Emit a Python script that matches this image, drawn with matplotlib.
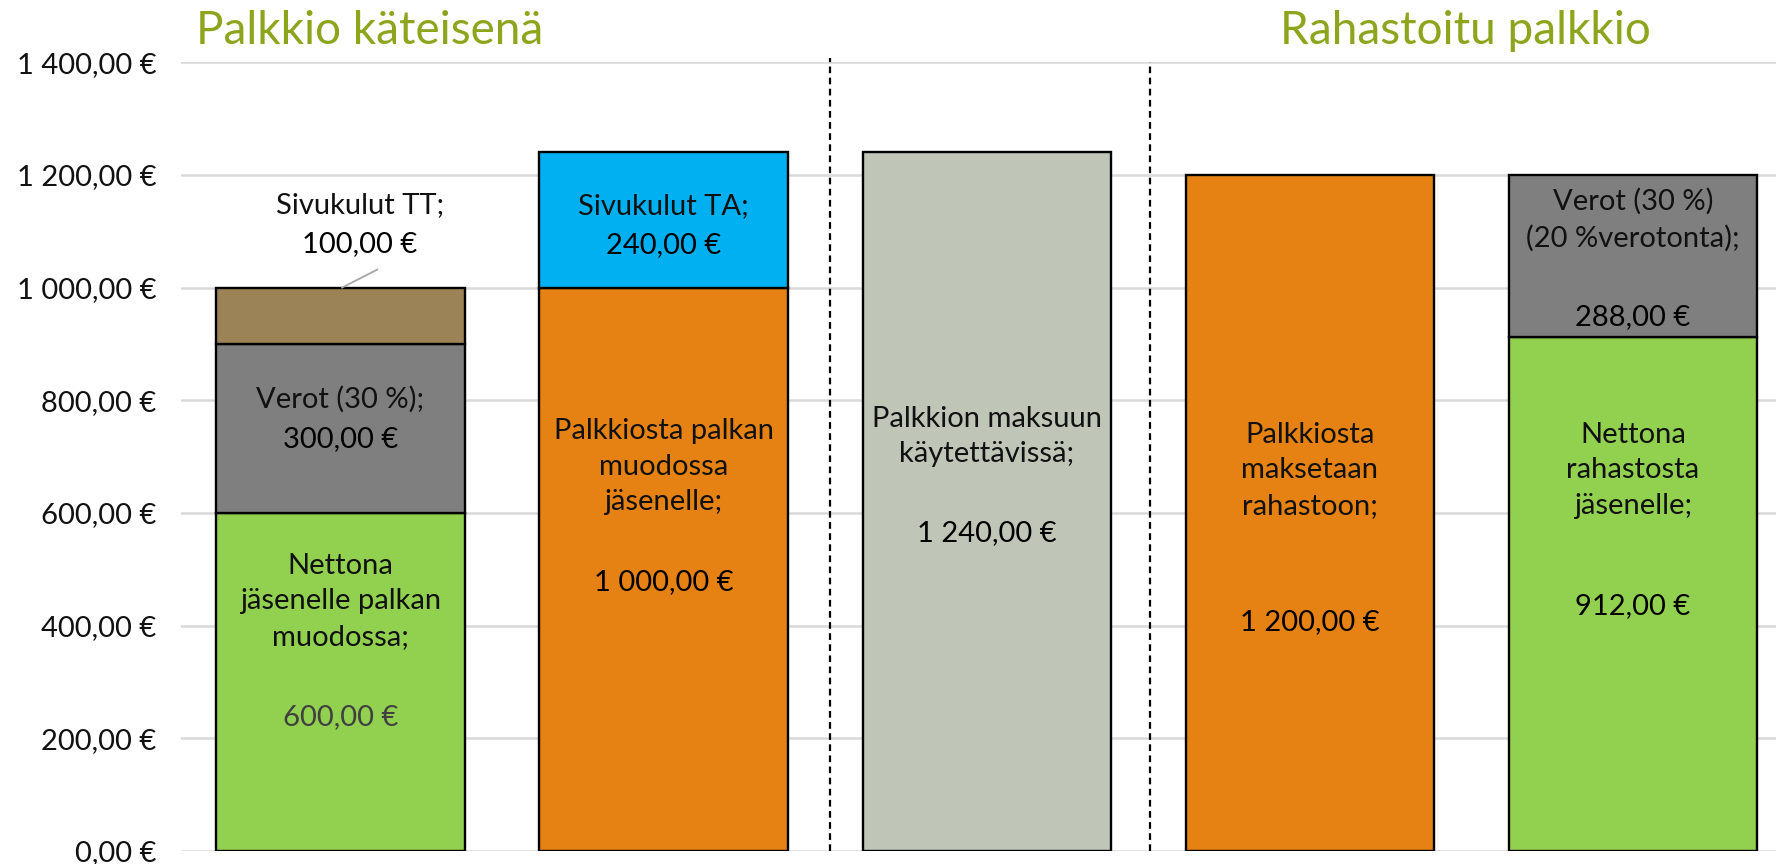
import numpy as np
import matplotlib.pyplot as plt

plt.rcParams['font.family'] = ['Lato', 'DejaVu Sans']

# Pylväät (vasemmalta oikealle) ja niiden osat alhaalta ylös
pylvaat = [0, 1, 2, 3, 4]
alaosa = [600, 1000, 1240, 1200, 912]
keskiosa = [300, 240, 0, 0, 288]
ylaosa = [100, 0, 0, 0, 0]

alaosa_varit = ['#92D050', '#E58213', '#BFC5B7', '#E58213', '#92D050']
keskiosa_varit = ['#7F7F7F', '#00B0F0', 'none', 'none', '#7F7F7F']
ylaosa_varit = ['#9C8257', 'none', 'none', 'none', 'none']

y_tikit = [0, 200, 400, 600, 800, 1000, 1200, 1400]
y_tikkien_nimet = ['0,00 €', '200,00 €', '400,00 €', '600,00 €', '800,00 €',
                   '1 000,00 €', '1 200,00 €', '1 400,00 €']

# Tekstit: (x, y nimi, nimi, y arvo, arvo, arvon väri)
tekstit = [
    (0, 443, 'Nettona\njäsenelle palkan\nmuodossa;', 237, '600,00 €', '#404040'),
    (0, 801, 'Verot (30 %);', 732, '300,00 €', 'black'),
    (0.06, 1147, 'Sivukulut TT;', 1078, '100,00 €', 'black'),
    (1, 1145, 'Sivukulut TA;', 1076, '240,00 €', 'black'),
    (1, 682, 'Palkkiosta palkan\nmuodossa\njäsenelle;', 477, '1 000,00 €', 'black'),
    (2, 736, 'Palkkion maksuun\nkäytettävissä;', 565, '1 240,00 €', 'black'),
    (3, 676, 'Palkkiosta\nmaksetaan\nrahastoon;', 406, '1 200,00 €', 'black'),
    (4, 676, 'Nettona\nrahastosta\njäsenelle;', 435, '912,00 €', 'black'),
    (4, 1120, 'Verot (30 %)\n(20 %verotonta);', 948, '288,00 €', 'black'),
]

fig = plt.figure(figsize=(17.76, 8.64), dpi=100)
ax = fig.add_axes([0.102, 0.015, 0.898, 0.913])

leveys = 0.768
ax.bar(pylvaat, alaosa, width=leveys, color=alaosa_varit, edgecolor='black', linewidth=1.7, zorder=3)
for i in pylvaat:
    if keskiosa[i] > 0:
        ax.bar(i, keskiosa[i], bottom=alaosa[i], width=leveys, color=keskiosa_varit[i],
               edgecolor='black', linewidth=1.7, zorder=3)
    if ylaosa[i] > 0:
        ax.bar(i, ylaosa[i], bottom=alaosa[i] + keskiosa[i], width=leveys, color=ylaosa_varit[i],
               edgecolor='black', linewidth=1.7, zorder=3)

for x, y1, nimi, y2, arvo, vari in tekstit:
    ax.text(x, y1, nimi, ha='center', va='center', fontsize=21, linespacing=1.45, color='#111111', zorder=4)
    ax.text(x, y2, arvo, ha='center', va='center', fontsize=21, color=vari, zorder=4)

# viiva Sivukulut TT -tekstiin
ax.plot([0.005, 0.114], [1000, 1032], color='#A6A6A6', lw=1.3, zorder=4)

# erotinviivat
ax.vlines(1.516, 0, 1407, colors='black', linestyles=(0, (3, 2)), lw=1.6, clip_on=False, zorder=4)
ax.vlines(2.505, 0, 1400, colors='black', linestyles=(0, (3, 2)), lw=1.6, clip_on=False, zorder=4)

ax.set_xlim(-0.493, 4.443)
ax.set_ylim(0, 1400)
ax.set_yticks(y_tikit)
ax.set_yticklabels(y_tikkien_nimet, fontsize=21, color='#111111')
ax.set_xticks([])
ax.tick_params(axis='y', length=0, pad=18)
ax.grid(axis='y', color='#D9D9D9', lw=1.8, zorder=0)
for s in ax.spines.values():
    s.set_visible(False)

fig.text(196 / 1776, 1 - 31 / 864, 'Palkkio käteisenä', fontsize=33, color='#8CA51C', va='center', ha='left')
fig.text(1280 / 1776, 1 - 31 / 864, 'Rahastoitu palkkio', fontsize=33, color='#8CA51C', va='center', ha='left')

fig.savefig('out.png', dpi=100)
